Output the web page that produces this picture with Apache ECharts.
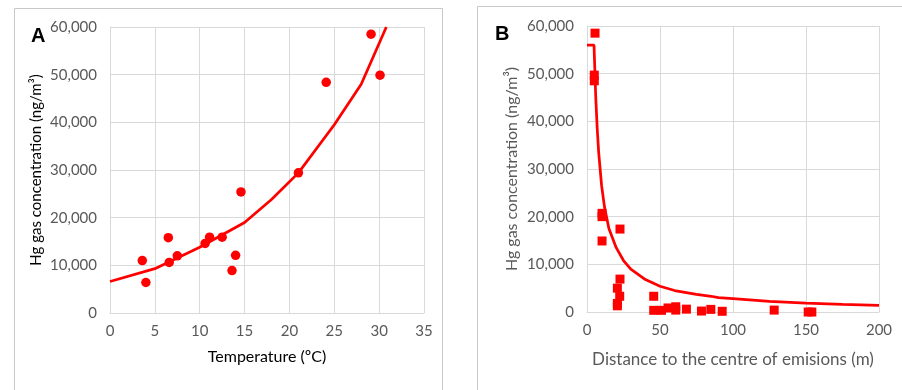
<!DOCTYPE html>
<html>
<head>
<meta charset="utf-8">
<script src="https://cdn.jsdelivr.net/npm/echarts@6/dist/echarts.min.js"></script>
<style>
  html, body { margin: 0; padding: 0; background: #fff; }
  #chart { width: 902px; height: 390px; }
</style>
</head>
<body>
<div id="chart"></div>
<script>
// Panel A: temperature vs Hg gas concentration
const tempPoints = [
  [3.6, 11000], [4.0, 6400], [6.5, 15800], [6.6, 10600], [7.5, 12000],
  [10.6, 14600], [11.1, 15900], [12.5, 15900], [13.6, 8900], [14.0, 12100],
  [14.6, 25400], [21.0, 29400], [24.1, 48400], [29.1, 58500], [30.1, 49900]
]
// trend line
const tempTrend = [
  [0, 6600], [5, 9300], [10, 13800], [15, 19000], [18, 23800],
  [21, 29400], [25, 39500], [28, 48000], [30.8, 60000]
]

// Panel B: distance vs Hg gas concentration
const distPoints = [
  [5.5, 58500], [5, 49700], [5, 48500],
  [10.3, 20700], [10.3, 20000], [10.3, 14900], [22.6, 17400],
  [22.6, 6900], [20.8, 5000], [22.4, 3300], [20.8, 1800], [20.8, 1300],
  [45.7, 3300], [45.7, 350], [51, 350], [55.5, 850], [60.8, 1100], [60.8, 400],
  [68.1, 600], [78.4, 200], [84.8, 550], [92.6, 150], [128.2, 400], [151.5, 0], [154, 0]
]
const distTrend = [
  [0, 56000], [4.8, 56000], [6, 45000], [7, 38500], [8, 33500], [10, 26500],
  [12, 22000], [15, 17500], [20, 13500], [25, 10800], [30, 9000], [40, 6800],
  [50, 5400], [60, 4500], [75, 3700], [85, 3300], [90, 3000], [100, 2800],
  [125, 2250], [150, 1850], [175, 1600], [200, 1400]
]

const font = 'Lato'
const gray = '#595959'
const gridColor = '#d9d9d9'
const red = '#ff0000'

const fmt = v => String(v).replace(/\B(?=(\d{3})+(?!\d))/g, ',')

function xAxis(idx, max, interval, name, nameColor, nameSize, nameGap) {
  return {
    gridIndex: idx, type: 'value', min: 0, max: max, interval: interval,
    name: name, nameLocation: 'middle', nameGap: nameGap,
    nameTextStyle: { color: nameColor, fontFamily: font, fontSize: nameSize },
    axisLine: { show: true, lineStyle: { color: gridColor } },
    axisTick: { show: false },
    axisLabel: { color: gray, fontFamily: font, fontSize: 15, margin: 11 },
    splitLine: { show: true, lineStyle: { color: gridColor } }
  }
}

function yAxis(idx, nameColor, nameSize, nameGap) {
  return {
    gridIndex: idx, type: 'value', min: 0, max: 60000, interval: 10000,
    name: 'Hg gas concentration (ng/m³)', nameLocation: 'middle', nameGap: nameGap,
    nameTextStyle: { color: nameColor, fontFamily: font, fontSize: nameSize },
    axisLine: { show: true, lineStyle: { color: gridColor } },
    axisTick: { show: false },
    axisLabel: { color: gray, fontFamily: font, fontSize: 15, margin: 13, formatter: fmt },
    splitLine: { show: true, lineStyle: { color: gridColor } }
  }
}

const chart = echarts.init(document.getElementById('chart'))
chart.setOption({
  animation: false,
  title: [
    { text: 'A', left: 26, top: 21, textStyle: { fontFamily: 'Liberation Sans', fontWeight: 'bold', fontSize: 20, color: '#000' } },
    { text: 'B', left: 490, top: 19, textStyle: { fontFamily: 'Liberation Sans', fontWeight: 'bold', fontSize: 20, color: '#000' } }
  ],
  graphic: [
    { type: 'rect', shape: { x: 14.5, y: 8.5, width: 428, height: 400 }, style: { fill: 'none', stroke: '#c8c8c8', lineWidth: 1 } },
    { type: 'rect', shape: { x: 477.5, y: 6.5, width: 440, height: 400 }, style: { fill: 'none', stroke: '#c8c8c8', lineWidth: 1 } }
  ],
  grid: [
    { left: 110, right: 478, top: 27, bottom: 77 },
    { left: 587, right: 23, top: 26, bottom: 78 }
  ],
  xAxis: [
    xAxis(0, 35, 5, 'Temperature (ºC)', '#000', 16, 36),
    xAxis(1, 200, 50, 'Distance to the centre of emisions (m)', gray, 17, 39)
  ],
  yAxis: [
    yAxis(0, '#000', 15, 66),
    yAxis(1, gray, 16, 67)
  ],
  series: [
    {
      type: 'line', xAxisIndex: 0, yAxisIndex: 0, data: tempTrend,
      showSymbol: false, lineStyle: { color: red, width: 2.75 }, z: 2
    },
    {
      type: 'scatter', xAxisIndex: 0, yAxisIndex: 0, data: tempPoints,
      symbol: 'circle', symbolSize: 9.5, itemStyle: { color: red, opacity: 1 }, z: 3
    },
    {
      type: 'line', xAxisIndex: 1, yAxisIndex: 1, data: distTrend,
      showSymbol: false, lineStyle: { color: red, width: 2.75 }, z: 2
    },
    {
      type: 'scatter', xAxisIndex: 1, yAxisIndex: 1, data: distPoints,
      symbol: 'rect', symbolSize: 9, itemStyle: { color: red, opacity: 1 }, z: 3
    }
  ]
})
</script>
</body>
</html>
